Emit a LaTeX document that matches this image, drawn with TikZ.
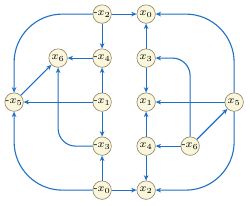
\documentclass[tikz,border=0pt]{standalone}
\usepackage{amsmath}
\usepackage{xcolor}
\usetikzlibrary{positioning,arrows.meta}

\definecolor{varfill}{RGB}{250,246,220}
\definecolor{varline}{RGB}{140,130,100}
\definecolor{impblue}{RGB}{31,111,196}

\begin{document}
\begin{tikzpicture}[
    var/.style={circle, draw=varline, fill=varfill, line width=0.4pt,
                inner sep=0pt, minimum size=0.42cm, font=\scriptsize},
    imp/.style={draw=impblue, line width=0.7pt,
                -{Stealth[length=3.5pt,width=3pt]}}
  ]
  \useasboundingbox (-0.32,-0.36) rectangle (5.36,4.32);

  \node[var] (mx2) at (2,4) {-$x_2$};
  \node[var] (x0)  at (3,4) {$x_0$};
  \node[var] (x6)  at (1,3) {$x_6$};
  \node[var] (mx4) at (2,3) {-$x_4$};
  \node[var] (x3)  at (3,3) {$x_3$};
  \node[var] (mx5) at (0,2) {-$x_5$};
  \node[var] (mx1) at (2,2) {-$x_1$};
  \node[var] (x1)  at (3,2) {$x_1$};
  \node[var] (x5)  at (5,2) {$x_5$};
  \node[var] (mx3) at (2,1) {-$x_3$};
  \node[var] (x4)  at (3,1) {$x_4$};
  \node[var] (mx6) at (4,1) {-$x_6$};
  \node[var] (mx0) at (2,0) {-$x_0$};
  \node[var] (x2)  at (3,0) {$x_2$};

  % straight implications
  \draw[imp] (mx2) -- (x0);
  \draw[imp] (mx2) -- (mx4);
  \draw[imp] (mx4) -- (x6);
  \draw[imp] (mx5) -- (x6);
  \draw[imp] (mx1) -- (mx4);
  \draw[imp] (mx1) -- (mx5);
  \draw[imp] (mx1) -- (mx3);
  \draw[imp] (mx0) -- (mx3);
  \draw[imp] (mx0) -- (x2);
  \draw[imp] (x3) -- (x0);
  \draw[imp] (x3) -- (x1);
  \draw[imp] (x5) -- (x1);
  \draw[imp] (x4) -- (x1);
  \draw[imp] (x4) -- (x2);
  \draw[imp] (mx6) -- (x4);
  \draw[imp] (mx6) -- (x5);

  % bent implications
  \draw[imp, rounded corners=0.4cm] (mx3) -| (x6);
  \draw[imp, rounded corners=0.4cm] (mx6) |- (x3);
  \draw[imp, rounded corners=1.1cm] (mx2) -| (mx5);
  \draw[imp, rounded corners=1.1cm] (mx0) -| (mx5);
  \draw[imp, rounded corners=1.1cm] (x5) |- (x0);
  \draw[imp, rounded corners=1.1cm] (x5) |- (x2);
\end{tikzpicture}
\end{document}
